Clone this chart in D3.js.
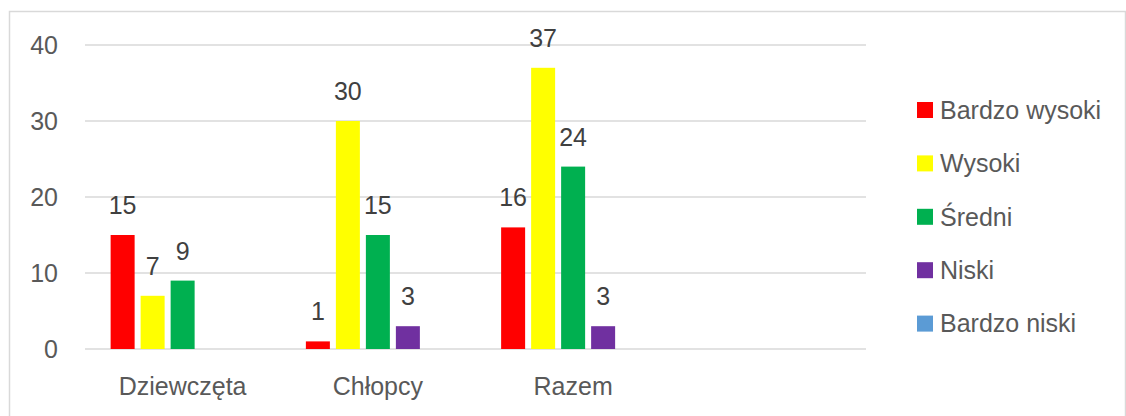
<!DOCTYPE html>
<html lang="pl">
<head>
<meta charset="UTF-8" />
<title>Wykres</title>
<style>
  body { margin: 0; background: #fff; }
  svg text { font-family: "Liberation Sans", Arial, sans-serif; }
</style>
</head>
<body>
<div class="chart"></div>
<script src="https://d3js.org/d3.v7.min.js"></script>
<script>
// categories (4th slot is empty in the original)
var categories = ["Dziewczęta", "Chłopcy", "Razem", ""];
var series = ["Bardzo wysoki", "Wysoki", "Średni", "Niski", "Bardzo niski"];
var colors = ["#ff0000", "#ffff00", "#00b050", "#7030a0", "#5b9bd5"];

// values per series, one per category (null = no bar)
var bardzoWysoki = [15, 1, 16, null];
var wysoki       = [7, 30, 37, null];
var sredni       = [9, 15, 24, null];
var niski        = [null, 3, 3, null];
var bardzoNiski  = [null, null, null, null];

var yTicks = [0, 10, 20, 30, 40];

var values = [bardzoWysoki, wysoki, sredni, niski, bardzoNiski];

var w = 1126, h = 416;
var svg = d3.select(".chart").append("svg")
  .attr("width", w)
  .attr("height", h);

// chart frame
svg.append("rect")
  .attr("x", 9.5).attr("y", 11.5)
  .attr("width", 1116).attr("height", 420)
  .attr("fill", "none")
  .attr("stroke", "#d9d9d9")
  .attr("stroke-width", 1.5);

var plotLeft = 85, plotRight = 866, plotTop = 45, plotBottom = 349;

var y = d3.scaleLinear().domain([0, 40]).range([plotBottom, plotTop]);
var x0 = d3.scaleBand().domain(categories).range([plotLeft, plotRight]);
var x1 = d3.scaleBand().domain(series).range([0, 144]).paddingInner(0.2);

// gridlines
svg.append("g").selectAll("line")
  .data(yTicks)
  .enter()
  .append("line")
  .attr("x1", plotLeft).attr("x2", plotRight)
  .attr("y1", function(d) { return y(d); })
  .attr("y2", function(d) { return y(d); })
  .attr("stroke", "#d9d9d9")
  .attr("stroke-width", 1.5);

// y tick labels
svg.append("g").selectAll("text")
  .data(yTicks)
  .enter()
  .append("text")
  .attr("x", 58)
  .attr("y", function(d) { return y(d); })
  .attr("dy", "0.35em")
  .attr("text-anchor", "end")
  .attr("font-size", "25px")
  .attr("fill", "#595959")
  .text(function(d) { return d; });

// category labels
svg.append("g").selectAll("text")
  .data(categories)
  .enter()
  .append("text")
  .attr("x", function(d) { return x0(d) + x0.bandwidth() / 2; })
  .attr("y", 395)
  .attr("text-anchor", "middle")
  .attr("font-size", "25px")
  .attr("fill", "#595959")
  .text(function(d) { return d; });

// bars
var cells = [];
categories.forEach(function(c, ci) {
  series.forEach(function(s, si) {
    var v = values[si][ci];
    if (v != null) cells.push({ cat: c, ser: s, si: si, v: v });
  });
});

function barX(d) {
  return x0(d.cat) + x0.bandwidth() / 2 - 72 + x1(d.ser);
}

svg.append("g").selectAll("rect")
  .data(cells)
  .enter()
  .append("rect")
  .attr("x", barX)
  .attr("y", function(d) { return y(d.v); })
  .attr("width", x1.bandwidth())
  .attr("height", function(d) { return y(0) - y(d.v); })
  .attr("fill", function(d) { return colors[d.si]; });

// value labels
svg.append("g").selectAll("text")
  .data(cells)
  .enter()
  .append("text")
  .attr("x", function(d) { return barX(d) + x1.bandwidth() / 2; })
  .attr("y", function(d) { return y(d.v) - 21; })
  .attr("text-anchor", "middle")
  .attr("font-size", "25px")
  .attr("fill", "#404040")
  .text(function(d) { return d.v; });

// legend
var legend = svg.append("g");
legend.selectAll("rect")
  .data(series)
  .enter()
  .append("rect")
  .attr("x", 917)
  .attr("y", function(d, i) { return 102 + i * 53.4; })
  .attr("width", 16)
  .attr("height", 16)
  .attr("fill", function(d, i) { return colors[i]; });

legend.selectAll("text")
  .data(series)
  .enter()
  .append("text")
  .attr("x", 940)
  .attr("y", function(d, i) { return 110 + i * 53.4; })
  .attr("dy", "0.35em")
  .attr("font-size", "25px")
  .attr("fill", "#595959")
  .text(function(d) { return d; });
</script>
</body>
</html>
